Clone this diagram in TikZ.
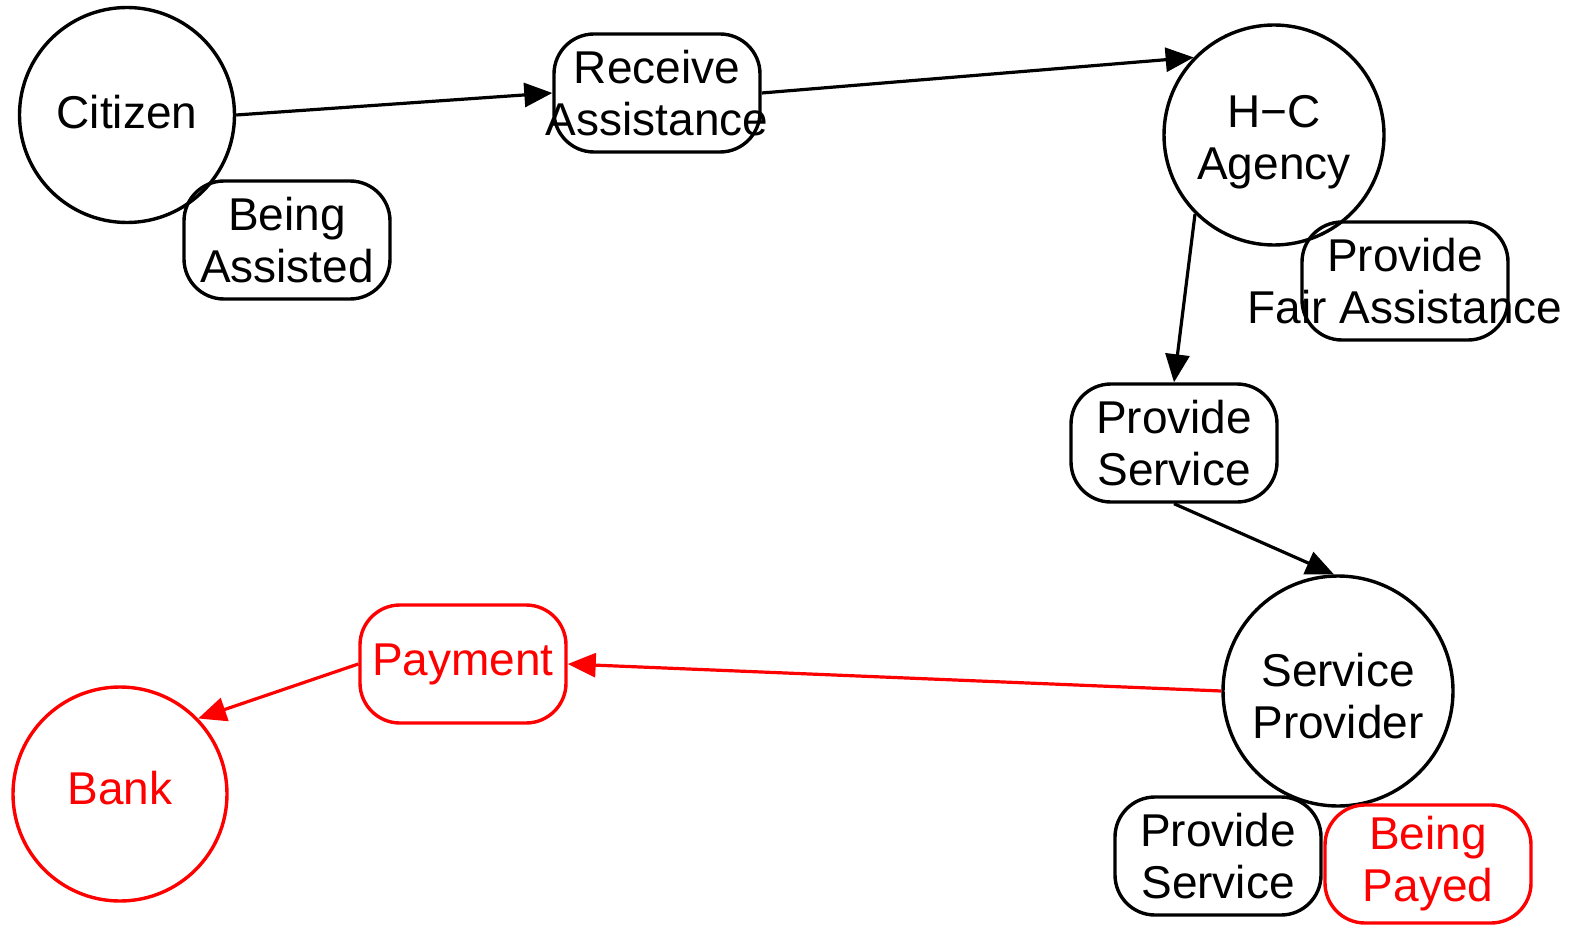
\documentclass[tikz,border=0pt]{standalone}
\usepackage{fontspec}
\setmainfont{Liberation Sans}
\usetikzlibrary{arrows.meta}
\definecolor{pred}{RGB}{255,0,0}
\begin{document}
\begin{tikzpicture}[x=1pt,y=-1pt,
  every node/.style={font=\fontsize{46}{52}\selectfont, align=center},
  actor/.style={draw, circle, line width=3.4pt, inner sep=0pt, minimum size=#1},
  rolebox/.style={draw, rectangle, rounded corners=40pt, line width=3.4pt,
    minimum width=206pt, minimum height=118pt, inner sep=0pt},
  flow/.style={line width=3.2pt, -{Triangle[length=28pt,width=24pt]}},
  paid/.style={pred, text=pred}
]
\useasboundingbox (0,0) rectangle (1570,925);

% actors (circle outlines, labels placed on top)
\node[actor=215pt] (cit) at (127,115) {};
\node at ([yshift=3pt]cit) {Citizen};
\node[actor=220pt] (hc) at (1274,135) {};
\node at ([yshift=-7pt]hc) {H\char"2212 C\\Agency};
\node[actor=230pt] (sp) at (1338,691) {};
\node at ([yshift=-5pt]sp) {Service\\Provider};
\node[actor=214pt, paid] (bank) at (120,794) {};
\node[text=pred] at ([yshift=6pt]bank) {Bank};

% role boxes (frames first, labels on top)
\node[rolebox] (ba) at (287,240) {};
\node at (ba) {Being\\Assisted};
\node[rolebox] (ra) at (657,93) {};
\node at (ra) {Receive\\Assistance};
\node[rolebox] (pfa) at (1405,281) {};
\node at (pfa) {Provide\\Fair Assistance};
\node[rolebox] (ps) at (1174,443) {};
\node at (ps) {Provide\\Service};
\node[rolebox] (ps2) at (1218,856) {};
\node at (ps2) {Provide\\Service};
\node[rolebox, paid] (bp) at (1428,864) {};
\node[text=pred] at (bp) {Being\\Payed};
\node[rolebox, paid] (pay) at (463,664) {};
\node[text=pred] at (pay) {Payment};

% connectors
\draw[flow] (cit.east) -- (ra.west);
\draw[flow] (ra.east) -- (hc.136);
\draw[flow] (hc.225) -- (ps.north);
\draw[flow] (ps.south) -- (sp.92);
\draw[flow, pred] (sp.west) -- (pay.east);
\draw[flow, pred] (pay.west) -- (bank.44);
\end{tikzpicture}
\end{document}
